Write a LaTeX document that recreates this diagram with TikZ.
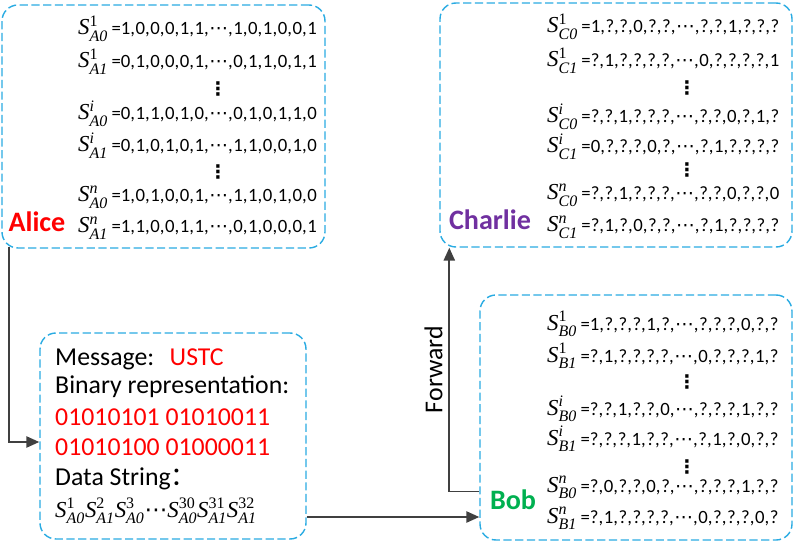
\documentclass[tikz,border=0pt]{standalone}
\usepackage{amsmath}
\usepackage{fontspec}
\setmainfont{Carlito}
\newfontfamily\cjkfont{Noto Sans CJK SC}
\newfontfamily\symfont{DejaVu Sans}
\newfontfamily\timesfont{Liberation Serif}
\usepackage{xcolor}
\usepackage{tikz}
\usetikzlibrary{
		arrows.meta,
		calc
	}
\definecolor{panel-blue}{HTML}{29ABE2}
\definecolor{accent-red}{HTML}{FF0000}
\definecolor{accent-purple}{HTML}{7030A0}
\definecolor{accent-green}{HTML}{00B050}
\definecolor{flow-gray}{HTML}{404040}
\newlength{\px}
\setlength{\px}{0.03cm}
\newcommand{\rowfont}{\fontsize{16}{18}\selectfont}
\newcommand{\msgfont}{\fontsize{22}{26}\selectfont}
\newcommand{\mdots}{{\symfont ⋯}}
% S with Times-like super- and subscript
\newcommand{\Sv}[2]{$\text{\timesfont\itshape S}^{\text{\timesfont\itshape #1}}_{\text{\timesfont\itshape #2}}$}
\newcommand{\Slabel}[2]{{\fontsize{19.5}{21}\selectfont\Sv{#1}{#2}}\kern3pt}
\newcommand{\bits}[1]{=\foreach[count=\bitidx] \bitval in {#1}{\ifnum\bitidx>1 ,\kern0.5pt\fi\bitval}}
\tikzset{%
		panel/.style = {
			draw = panel-blue,
			line width = 1.2pt,
			dash pattern = on 7pt off 3pt,
			rounded corners = 16\px,
			inner sep = 0pt
		},
		row/.style = {
			anchor = base west,
			inner sep = 0pt,
			font = \rowfont
		},
		msgline/.style = {
			anchor = base west,
			inner sep = 0pt,
			font = \msgfont
		},
		vdots/.style = {
			inner sep = 0pt,
			font = \fontsize{16}{18}\selectfont\symfont\bfseries
		},
		who/.style = {
			inner sep = 0pt,
			font = \fontsize{24}{28}\selectfont\bfseries
		},
		flow/.style = {
			draw = flow-gray,
			line width = 1.6pt,
			-{Triangle[length=11pt, width=9.5pt]}
		}
	}

\begin{document}
\begin{tikzpicture}[x=0.03cm, y=-0.03cm]
		\useasboundingbox (0, 0) rectangle (795, 542);
		% panels
		\node [panel, minimum width=323\px, minimum height=243\px] (alicebox) at (163.5, 126.5) {};
		\node [panel, minimum width=352\px, minimum height=244\px] (charliebox) at (616, 125) {};
		\node [panel, minimum width=266\px, minimum height=206\px] (msgbox) at (173, 436) {};
		\node [panel, minimum width=312\px, minimum height=245\px] (bobbox) at (636, 417.5) {};

		% Alice
		\node [who, text=accent-red] (alice) at (37, 222) {Alice};
		\node [row] (a1) at (78, 35) {\Slabel{\upshape 1}{A0}\bits{1,0,0,0,1,1,\mdots,1,0,1,0,0,1}};
		\node [row] (a2) at (78, 68) {\Slabel{\upshape 1}{A1}\bits{0,1,0,0,0,1,\mdots,0,1,1,0,1,1}};
		\node [vdots] (ad1) at (218, 89) {⋮};
		\node [row] (a3) at (78, 120) {\Slabel{i}{A0}\bits{0,1,1,0,1,0,\mdots,0,1,0,1,1,0}};
		\node [row] (a4) at (78, 152) {\Slabel{i}{A1}\bits{0,1,0,1,0,1,\mdots,1,1,0,0,1,0}};
		\node [vdots] (ad2) at (218, 172) {⋮};
		\node [row] (a5) at (78, 202) {\Slabel{n}{A0}\bits{1,0,1,0,0,1,\mdots,1,1,0,1,0,0}};
		\node [row] (a6) at (78, 233) {\Slabel{n}{A1}\bits{1,1,0,0,1,1,\mdots,0,1,0,0,0,1}};

		% Charlie
		\node [who, text=accent-purple] (charlie) at (490, 220) {Charlie};
		\node [row] (c1) at (547, 33) {\Slabel{\upshape 1}{C0}\bits{1,?,?,0,?,?,\mdots,?,?,1,?,?,?}};
		\node [row] (c2) at (547, 67) {\Slabel{\upshape 1}{C1}\bits{?,1,?,?,?,?,\mdots,0,?,?,?,?,1}};
		\node [vdots] (cd1) at (687, 88) {⋮};
		\node [row] (c3) at (547, 123) {\Slabel{i}{C0}\bits{?,?,1,?,?,?,\mdots,?,?,0,?,1,?}};
		\node [row] (c4) at (547, 153) {\Slabel{i}{C1}\bits{0,?,?,?,0,?,\mdots,?,1,?,?,?,?}};
		\node [vdots] (cd2) at (687, 170) {⋮};
		\node [row] (c5) at (547, 200) {\Slabel{n}{C0}\bits{?,?,1,?,?,?,\mdots,?,?,0,?,?,0}};
		\node [row] (c6) at (547, 232) {\Slabel{n}{C1}\bits{?,1,?,0,?,?,\mdots,?,1,?,?,?,?}};

		% message
		\node [msgline] (m1) at (55, 365) {Message:\hspace{0.6em}\textcolor{accent-red}{USTC}};
		\node [msgline] (m2) at (55, 393) {Binary representation:};
		\node [msgline, text=accent-red] (m3) at (55, 425) {01010101 01010011};
		\node [msgline, text=accent-red] (m4) at (55, 455) {01010100 01000011};
		\node [msgline] (m5) at (55, 485) {Data String{\cjkfont ：}};
		\node [msgline, font=\fontsize{19.5}{21}\selectfont] (m6) at (55, 517)
			{\Sv{\upshape 1}{A0}\Sv{\upshape 2}{A1}\Sv{\upshape 3}{A0}\mdots\Sv{\upshape 30}{A0}\Sv{\upshape 31}{A1}\Sv{\upshape 32}{A1}};

		% Bob
		\node [who, text=accent-green] (bob) at (513, 500) {Bob};
		\node [row] (b1) at (547, 330) {\Slabel{\upshape 1}{B0}\bits{1,?,?,?,1,?,\mdots,?,?,?,0,?,?}};
		\node [row] (b2) at (547, 362) {\Slabel{\upshape 1}{B1}\bits{?,1,?,?,?,?,\mdots,0,?,?,?,1,?}};
		\node [vdots] (bd1) at (687, 382) {⋮};
		\node [row] (b3) at (547, 415) {\Slabel{i}{B0}\bits{?,?,1,?,?,0,\mdots,?,?,?,1,?,?}};
		\node [row] (b4) at (547, 445) {\Slabel{i}{B1}\bits{?,?,?,1,?,?,\mdots,?,1,?,0,?,?}};
		\node [vdots] (bd2) at (687, 467) {⋮};
		\node [row] (b5) at (547, 492) {\Slabel{n}{B0}\bits{?,0,?,?,0,?,\mdots,?,?,?,1,?,?}};
		\node [row] (b6) at (547, 523) {\Slabel{n}{B1}\bits{?,1,?,?,?,?,\mdots,0,?,?,?,0,?}};

		% connectors
		\coordinate (msgout) at ([yshift=-81\px]msgbox.east);
		\coordinate (bobout) at ([yshift=-74\px]bobbox.west);
		\coordinate (alicedown) at ([xshift=8\px, yshift=2\px]alicebox.south west);
		\coordinate (msgin) at ([yshift=-6\px]msgbox.west);
		\coordinate (charliein) at ([xshift=10\px]charliebox.south west);
		\draw [flow] (alicedown) |- (msgin);
		\draw [flow] (msgout) -- (msgout -| bobbox.west);
		\draw [flow] (bobout) -| (charliein)
			node [pos=0.75, rotate=90, anchor=south, inner sep=5pt, font=\msgfont, text=black] (forward) {Forward};
	\end{tikzpicture}
\end{document}
